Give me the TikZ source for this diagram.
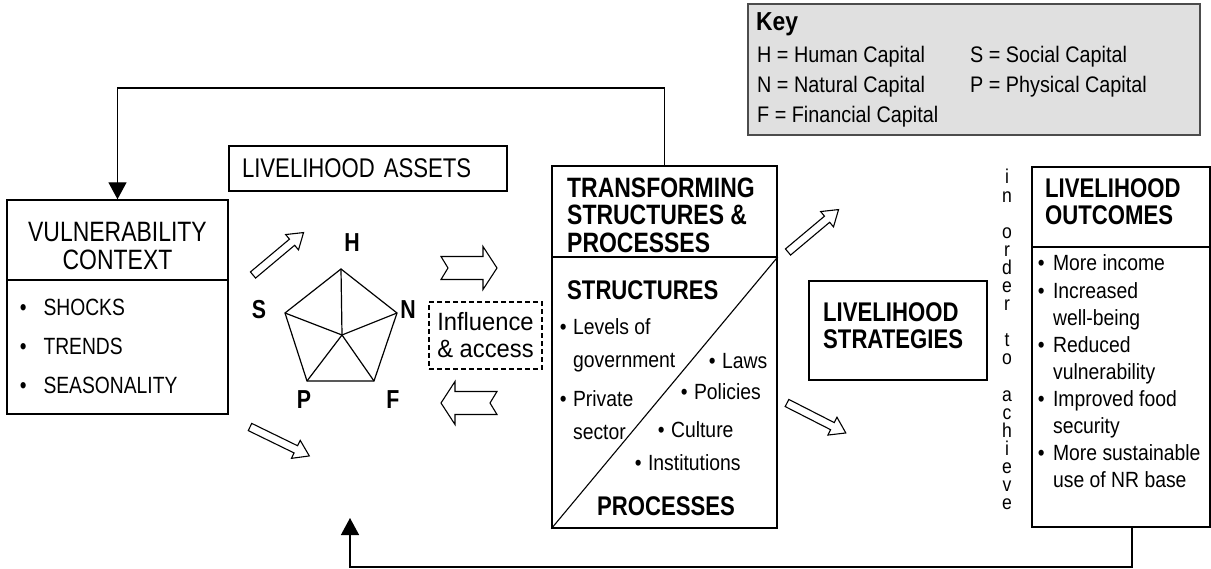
\documentclass[tikz,border=0pt]{standalone}
\usepackage{fontspec}
\setmainfont{Liberation Sans}
\newfontfamily\headfont{Liberation Sans}[FakeStretch=0.82]
\newfontfamily\bodyfont{Liberation Sans}[FakeStretch=0.88]
\newfontfamily\widefont{Liberation Sans}[FakeStretch=0.95]
\usetikzlibrary{arrows.meta}
\definecolor{keygray}{HTML}{E0E0E0}

\tikzset{
  box/.style={draw, line width=1.4pt, inner sep=0pt},
  headtext/.style={inner sep=0pt, font=\headfont\bfseries\fontsize{27}{26}\selectfont},
  itemtext/.style={inner sep=0pt, font=\bodyfont\fontsize{22}{27}\selectfont},
  capletter/.style={inner sep=0pt, font=\headfont\bfseries\fontsize{26}{26}\selectfont},
  feedback/.style={line width=1.4pt, -{Triangle[width=18pt,length=17pt]}},
  pics/hollow arrow/.style={code={
    \draw[line width=1.1pt, fill=white] (0,-4) -- (51,-4) -- (51,-10) -- (66,0)
      -- (51,10) -- (51,4) -- (0,4) -- cycle;}},
  pics/notch arrow/.style={code={
    \draw[line width=1.1pt, fill=white] (0,-11.5) -- (42,-11.5) -- (42,-21.5) -- (56,0)
      -- (42,21.5) -- (42,11.5) -- (0,11.5) -- (7,0) -- cycle;}},
}

\begin{document}
\begin{tikzpicture}[x=1pt, y=-1pt]
  \useasboundingbox (0,0) rectangle (1211,569);

  % vulnerability context
  \node[box, minimum width=221pt, minimum height=214pt] (vuln) at (117.5,307) {};
  \draw[line width=1.4pt] (vuln.west |- 0,280) -- (vuln.east |- 0,280);
  \node[headtext, anchor=base, font=\headfont\fontsize{28}{26}\selectfont] (vulntitle) at (117.5,242)
    {\begin{tabular}[t]{@{}c@{}}VULNERABILITY\\CONTEXT\end{tabular}};
  \node[headtext, anchor=base west, font=\headfont\fontsize{23.5}{39}\selectfont] (vulnlist) at (19.6,316)
    {\begin{tabular}[t]{@{}l@{\hspace{17pt}}l@{}}\textbullet & SHOCKS\\ \textbullet & TRENDS\\ \textbullet & SEASONALITY\end{tabular}};

  % livelihood assets
  \node[box, headtext, font=\headfont\fontsize{27}{26}\selectfont, minimum width=278pt, minimum height=45pt,
    text width=252pt, align=left, inner xsep=13pt] (assets) at (368,168.5) {LIVELIHOOD ASSETS};
  \coordinate (hv) at (341,269);
  \coordinate (nv) at (397,313);
  \coordinate (fv) at (374,381);
  \coordinate (pv) at (307,381);
  \coordinate (sv) at (285,313);
  \coordinate (cv) at (342,335);
  \draw[line width=1.2pt] (hv) -- (nv) -- (fv) -- (pv) -- (sv) -- cycle;
  \foreach \v in {hv,nv,fv,pv,sv}
    \draw[line width=1.2pt] (cv) -- (\v);
  \node[capletter] (hlabel) at (352,243) {H};
  \node[capletter] (slabel) at (259,310) {S};
  \node[capletter] (nlabel) at (408,310) {N};
  \node[capletter] (plabel) at (304,400) {P};
  \node[capletter] (flabel) at (393,400) {F};
  \pic[rotate=40] at (253,275) {hollow arrow};
  \pic[rotate=-26] at (250,427) {hollow arrow};

  % influence and access
  \node[draw, dash pattern=on 5pt off 3pt, line width=1.1pt, minimum width=113pt, minimum height=67pt,
    inner sep=0pt, align=left, font=\widefont\fontsize{25}{27}\selectfont]
    (influence) at (485.5,335.5) {Influence\\\& access};
  \pic at (441,268) {notch arrow};
  \pic[rotate=180] at (497,403) {notch arrow};

  % transforming structures and processes
  \node[box, minimum width=225pt, minimum height=362pt] (trans) at (664.5,347) {};
  \draw[line width=1.4pt] (trans.west |- 0,257) -- (trans.east |- 0,257);
  \draw[line width=1.1pt] (trans.south west) -- (trans.east |- 0,257);
  \node[headtext, anchor=base west, font=\headfont\bfseries\fontsize{28}{26}\selectfont] (transtitle) at (567,197.5)
    {\begin{tabular}[t]{@{}l@{}}TRANSFORMING\\STRUCTURES \&\\PROCESSES\end{tabular}};
  \node[headtext, anchor=base west] (structures) at (567,299.5) {STRUCTURES};
  \node[headtext, anchor=base] (processes) at (666,515) {PROCESSES};
  \node[itemtext, anchor=base west, font=\bodyfont\fontsize{22}{33}\selectfont] (govlist) at (559.6,335)
    {\begin{tabular}[t]{@{}l@{\hspace{6.5pt}}l@{}}\textbullet & Levels of\\ & government\\[6pt] \textbullet & Private\\ & sector\end{tabular}};
  \node[itemtext, anchor=base west] (laws) at (708.6,369) {\textbullet\hspace{6.5pt}Laws};
  \node[itemtext, anchor=base west] (policies) at (680.6,400) {\textbullet\hspace{6.5pt}Policies};
  \node[itemtext, anchor=base west] (culture) at (657.6,438) {\textbullet\hspace{6.5pt}Culture};
  \node[itemtext, anchor=base west] (institutions) at (634.6,471) {\textbullet\hspace{6.5pt}Institutions};
  \pic[rotate=40] at (788,252) {hollow arrow};
  \pic[rotate=-27] at (787,403) {hollow arrow};

  % livelihood strategies
  \node[box, minimum width=178pt, minimum height=99pt] (strat) at (898,330.5) {};
  \node[headtext, anchor=base west] (strattitle) at (823,321.5)
    {\begin{tabular}[t]{@{}l@{}}LIVELIHOOD\\STRATEGIES\end{tabular}};

  % in order to achieve
  \foreach \s/\ch in {0/i,1/n,3/o,4/r,5/d,6/e,7/r,9/t,10/o,12/a,13/c,14/h,15/i,16/e,17/v,18/e}
    \node[inner sep=0pt, anchor=base, font=\bodyfont\fontsize{20}{20}\selectfont] at (1007,184+18.1*\s) {\ch};

  % livelihood outcomes
  \node[box, minimum width=178pt, minimum height=360pt] (outcomes) at (1121,347) {};
  \draw[line width=1.4pt] (outcomes.west |- 0,247) -- (outcomes.east |- 0,247);
  \node[headtext, anchor=base west, font=\headfont\bfseries\fontsize{27}{25}\selectfont] (outtitle) at (1045,198)
    {\begin{tabular}[t]{@{}l@{}}LIVELIHOOD\\OUTCOMES\end{tabular}};
  \node[itemtext, anchor=base west, font=\bodyfont\fontsize{22}{27.1}\selectfont] (outlist) at (1037.6,271)
    {\begin{tabular}[t]{@{}l@{\hspace{8.5pt}}l@{}}
      \textbullet & More income\\
      \textbullet & Increased\\
                  & well-being\\
      \textbullet & Reduced\\
                  & vulnerability\\
      \textbullet & Improved food\\
                  & security\\
      \textbullet & More sustainable\\
                  & use of NR base
    \end{tabular}};

  % key
  \node[draw=black!70, fill=keygray, line width=1.4pt, minimum width=452pt, minimum height=131pt]
    (key) at (974,69.5) {};
  \node[inner sep=0pt, anchor=base west, font=\bodyfont\bfseries\fontsize{26}{26}\selectfont] (keytitle) at (756,31) {Key};
  \node[itemtext, anchor=base west, font=\bodyfont\fontsize{22.5}{30}\selectfont] (keylist) at (757,63)
    {\begin{tabular}[t]{@{}p{213pt}@{}l@{}}
      H = Human Capital   & S = Social Capital\\
      N = Natural Capital & P = Physical Capital\\
      F = Financial Capital &
    \end{tabular}};

  % feedback loops
  \coordinate (assetsin) at (350,518);
  \draw[feedback] (trans.north) |- (vuln.north |- 0,88) -- (vuln.north);
  \draw[feedback] ([xshift=11pt]outcomes.south) |- (assetsin |- 0,567) -- (assetsin);
\end{tikzpicture}
\end{document}
